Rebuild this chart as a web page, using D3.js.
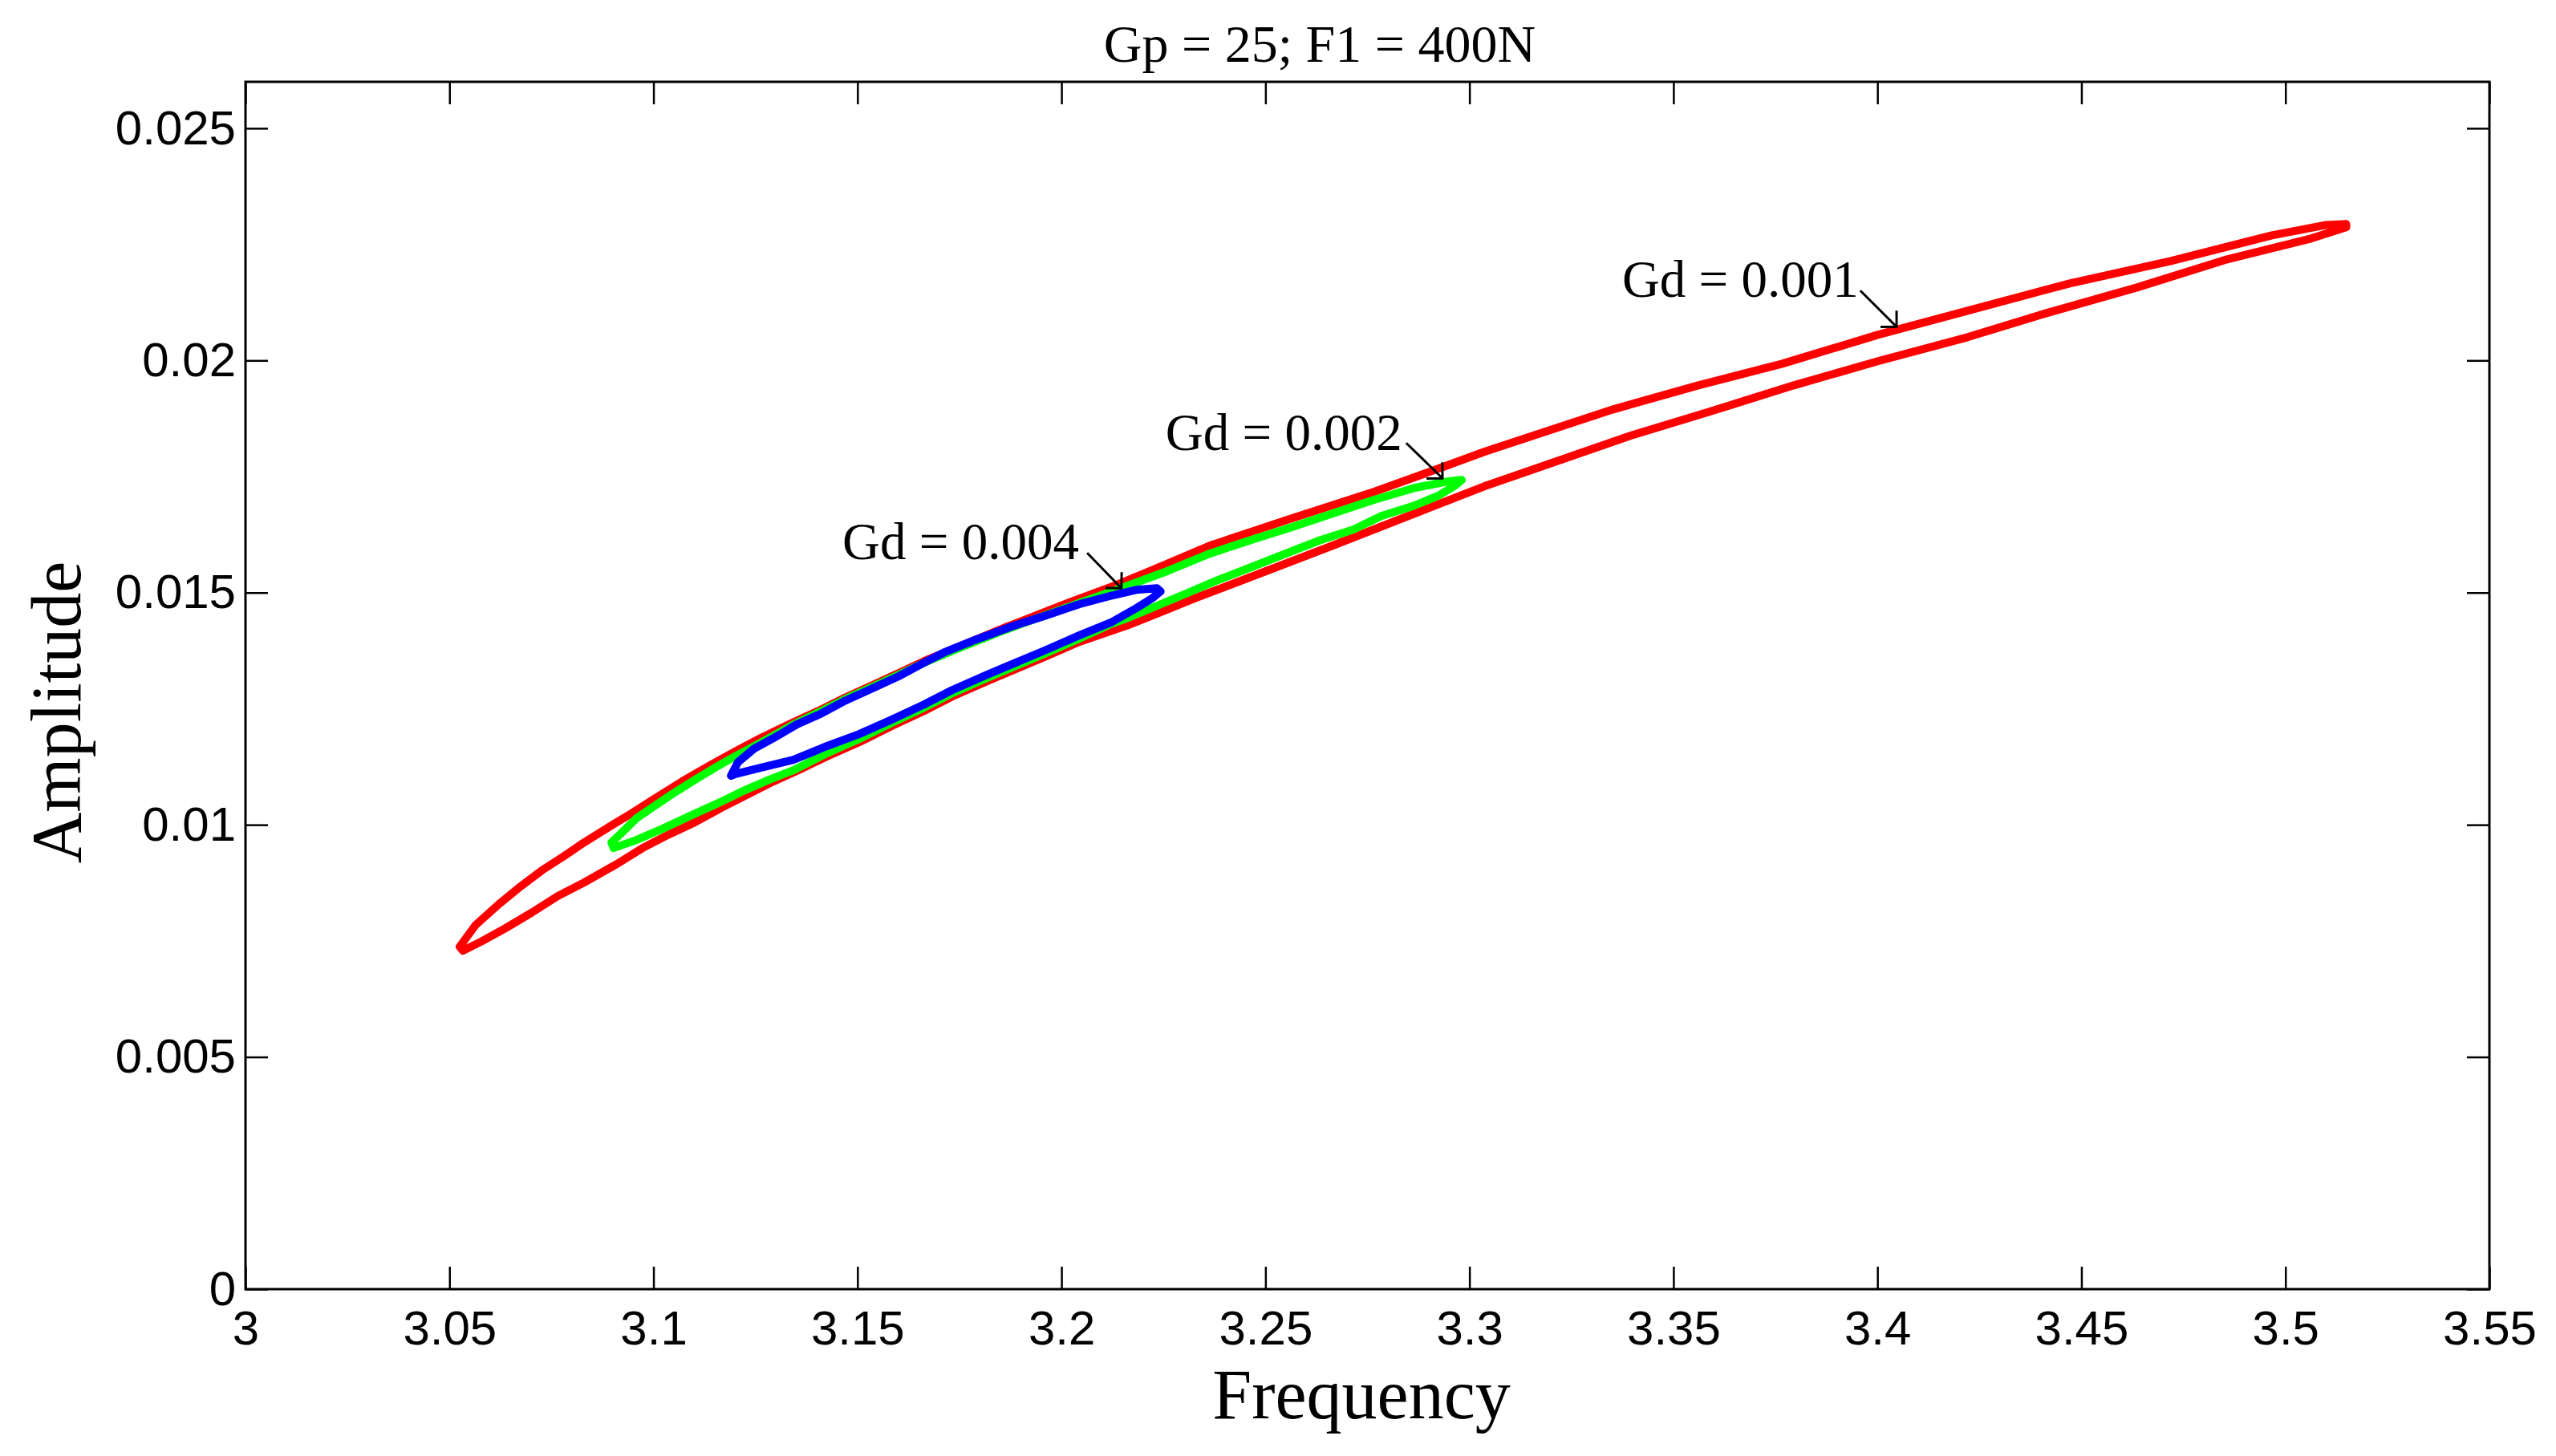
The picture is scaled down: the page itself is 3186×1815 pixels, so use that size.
<!DOCTYPE html>
<html>
<head>
<meta charset="utf-8">
<script src="https://cdn.jsdelivr.net/npm/d3@7"></script>
<style>
  body { margin: 0; background: #fff; }
  .tick text { font-family: "Liberation Sans", Arial, sans-serif; font-size: 60px; fill: #000; }
  .tick line { stroke: #000; stroke-width: 2.5; }
  .serif { font-family: "Liberation Serif", "Times New Roman", serif; fill: #000; }
</style>
</head>
<body>
<div id="chart"></div>
<script>
// axis ticks
const xTicks = [3, 3.05, 3.1, 3.15, 3.2, 3.25, 3.3, 3.35, 3.4, 3.45, 3.5, 3.55];
const xTickLabels = ["3", "3.05", "3.1", "3.15", "3.2", "3.25", "3.3", "3.35", "3.4", "3.45", "3.5", "3.55"];
const yTicks = [0, 0.005, 0.01, 0.015, 0.02, 0.025];
const yTickLabels = ["0", "0.005", "0.01", "0.015", "0.02", "0.025"];

// Gd = 0.001 loop (red): upper branch left->right, lower branch right->left
const gd001Upper = [[3.0525,0.007375],[3.0564,0.007841],[3.0621,0.008290],[3.0669,0.008636],[3.0726,0.009015],[3.0781,0.009326],[3.0830,0.009620],[3.0893,0.009965],[3.0942,0.010224],[3.1007,0.010587],[3.1070,0.010933],[3.1135,0.011261],[3.1199,0.011572],[3.1262,0.011865],[3.1335,0.012176],[3.1408,0.012470],[3.1471,0.012746],[3.1536,0.013005],[3.1600,0.013264],[3.1663,0.013523],[3.1738,0.013799],[3.1862,0.014249],[3.2013,0.014767],[3.2124,0.015129],[3.2224,0.015492],[3.2363,0.016010],[3.2564,0.016597],[3.2765,0.017167],[3.2945,0.017737],[3.3036,0.018031],[3.3173,0.018428],[3.3352,0.018946],[3.3561,0.019464],[3.3767,0.019930],[3.4001,0.020552],[3.4221,0.021071],[3.4471,0.021658],[3.4719,0.022141],[3.4967,0.022694],[3.5100,0.022918],[3.5149,0.022936]];
const gd001Lower = [[3.5149,0.022867],[3.5063,0.022625],[3.4857,0.022176],[3.4636,0.021571],[3.4414,0.021019],[3.4221,0.020501],[3.4001,0.019983],[3.3795,0.019464],[3.3588,0.018894],[3.3394,0.018376],[3.3201,0.017789],[3.3036,0.017288],[3.2865,0.016701],[3.2664,0.016010],[3.2464,0.015336],[3.2324,0.014870],[3.2243,0.014577],[3.2163,0.014300],[3.2043,0.013938],[3.1962,0.013627],[3.1892,0.013368],[3.1813,0.013074],[3.1732,0.012763],[3.1663,0.012452],[3.1583,0.012124],[3.1504,0.011779],[3.1424,0.011468],[3.1359,0.011192],[3.1294,0.010933],[3.1231,0.010656],[3.1166,0.010363],[3.1101,0.010052],[3.1038,0.009793],[3.0973,0.009499],[3.0910,0.009154],[3.0830,0.008756],[3.0765,0.008463],[3.0700,0.008100],[3.0637,0.007772],[3.0580,0.007496],[3.0533,0.007289]];

// Gd = 0.002 loop (green)
const gd002Upper = [[3.0897,0.009620],[3.0918,0.009793],[3.0958,0.010138],[3.1007,0.010432],[3.1054,0.010708],[3.1101,0.010967],[3.1150,0.011226],[3.1199,0.011468],[3.1247,0.011692],[3.1294,0.011917],[3.1343,0.012159],[3.1408,0.012435],[3.1471,0.012712],[3.1536,0.012971],[3.1600,0.013230],[3.1663,0.013489],[3.1738,0.013765],[3.1862,0.014197],[3.2013,0.014680],[3.2124,0.015026],[3.2263,0.015475],[3.2363,0.015838],[3.2464,0.016131],[3.2564,0.016408],[3.2664,0.016701],[3.2765,0.016995],[3.2865,0.017254],[3.2945,0.017392],[3.2981,0.017426]];
const gd002Lower = [[3.2965,0.017306],[3.2926,0.017098],[3.2865,0.016874],[3.2784,0.016649],[3.2715,0.016356],[3.2635,0.016131],[3.2564,0.015889],[3.2464,0.015544],[3.2383,0.015268],[3.2304,0.014974],[3.2243,0.014749],[3.2163,0.014456],[3.2124,0.014335],[3.2043,0.014007],[3.1962,0.013696],[3.1892,0.013437],[3.1813,0.013143],[3.1732,0.012832],[3.1663,0.012522],[3.1583,0.012193],[3.1504,0.011848],[3.1424,0.011537],[3.1343,0.011174],[3.1278,0.010950],[3.1215,0.010708],[3.1150,0.010432],[3.1085,0.010173],[3.1022,0.009914],[3.0958,0.009672],[3.0902,0.009499]];

// Gd = 0.004 loop (blue)
const gd004Upper = [[3.1190,0.011054],[3.1207,0.011347],[3.1247,0.011641],[3.1294,0.011865],[3.1351,0.012159],[3.1408,0.012383],[3.1471,0.012677],[3.1536,0.012936],[3.1600,0.013195],[3.1663,0.013489],[3.1713,0.013713],[3.1791,0.013990],[3.1882,0.014283],[3.1962,0.014508],[3.2043,0.014749],[3.2124,0.014939],[3.2183,0.015060],[3.2234,0.015095],[3.2243,0.015026]];
const gd004Lower = [[3.2224,0.014888],[3.2183,0.014663],[3.2124,0.014369],[3.2043,0.014076],[3.1962,0.013765],[3.1892,0.013506],[3.1813,0.013212],[3.1732,0.012901],[3.1663,0.012591],[3.1583,0.012262],[3.1504,0.011952],[3.1424,0.011692],[3.1343,0.011399],[3.1262,0.011226],[3.1199,0.011088]];

const seriesColors = ["#ff0000", "#00ff00", "#0000ff"];

// annotation text end point and arrow start/end, in data units
const noteLabels = ["Gd = 0.001", "Gd = 0.002", "Gd = 0.004"];
const noteText = [[3.3954, 0.021364], [3.2835, 0.018066], [3.2043, 0.015717]];
const noteFrom = [[3.3958, 0.021503], [3.2845, 0.018221], [3.2063, 0.015855]];
const noteTo = [[3.4047, 0.020725], [3.2934, 0.017461], [3.2147, 0.015095]];

const W = 3186, H = 1815;
const plot = { left: 306, right: 3103, top: 102, bottom: 1607 };

const svg = d3.select("#chart").append("svg")
  .attr("width", W)
  .attr("height", H)
  .style("background", "#fff");

const x = d3.scaleLinear().domain([3, 3.55]).range([plot.left, plot.right]);
const y = d3.scaleLinear().domain([0, 0.026]).range([plot.bottom, plot.top]);

const tickLen = 28;

// Bottom axis with labels
svg.append("g")
  .attr("transform", `translate(0,${plot.bottom})`)
  .call(d3.axisBottom(x).tickValues(xTicks).tickFormat((d, i) => xTickLabels[i])
    .tickSizeInner(-tickLen).tickSizeOuter(0).tickPadding(26))
  .call(g => g.select(".domain").remove());

// Left axis with labels
svg.append("g")
  .attr("transform", `translate(${plot.left},0)`)
  .call(d3.axisLeft(y).tickValues(yTicks).tickFormat((d, i) => yTickLabels[i])
    .tickSizeInner(-tickLen).tickSizeOuter(0).tickPadding(12))
  .call(g => g.select(".domain").remove());

// Top and right mirror ticks
svg.append("g")
  .attr("transform", `translate(0,${plot.top})`)
  .call(d3.axisTop(x).tickValues(xTicks).tickFormat("").tickSizeInner(-tickLen).tickSizeOuter(0))
  .call(g => g.select(".domain").remove());

svg.append("g")
  .attr("transform", `translate(${plot.right},0)`)
  .call(d3.axisRight(y).tickValues(yTicks).tickFormat("").tickSizeInner(-tickLen).tickSizeOuter(0))
  .call(g => g.select(".domain").remove());

// Axes box
svg.append("rect")
  .attr("x", plot.left)
  .attr("y", plot.top)
  .attr("width", plot.right - plot.left)
  .attr("height", plot.bottom - plot.top)
  .attr("fill", "none")
  .attr("stroke", "#000")
  .attr("stroke-width", 3);

// Loops, red under green under blue
const loops = [
  gd001Upper.concat(gd001Lower),
  gd002Upper.concat(gd002Lower),
  gd004Upper.concat(gd004Lower),
];

const line = d3.line()
  .x(d => x(d[0]))
  .y(d => y(d[1]))
  .curve(d3.curveLinearClosed);

svg.append("g")
  .selectAll("path")
  .data(loops)
  .enter()
  .append("path")
  .attr("d", line)
  .attr("fill", "none")
  .attr("stroke", (d, i) => seriesColors[i])
  .attr("stroke-width", 10)
  .attr("stroke-linejoin", "round");

// Annotations with open arrow heads
const notes = svg.append("g");
noteLabels.forEach((label, i) => {
  notes.append("text")
    .attr("class", "serif")
    .attr("x", x(noteText[i][0]))
    .attr("y", y(noteText[i][1]))
    .attr("text-anchor", "end")
    .attr("font-size", 65)
    .text(label);

  const x0 = x(noteFrom[i][0]), y0 = y(noteFrom[i][1]);
  const x1 = x(noteTo[i][0]), y1 = y(noteTo[i][1]);
  const ang = Math.atan2(y0 - y1, x0 - x1);
  const headLen = 20;
  const head = [ang - Math.PI / 4, ang + Math.PI / 4].map(a => [x1 + headLen * Math.cos(a), y1 + headLen * Math.sin(a)]);

  notes.append("path")
    .attr("d", `M${x0},${y0}L${x1},${y1}M${head[0][0]},${head[0][1]}L${x1},${y1}L${head[1][0]},${head[1][1]}`)
    .attr("fill", "none")
    .attr("stroke", "#000")
    .attr("stroke-width", 3);
});

// Title and axis labels
svg.append("text")
  .attr("class", "serif")
  .attr("x", 1645)
  .attr("y", 77)
  .attr("text-anchor", "middle")
  .attr("font-size", 66)
  .text("Gp = 25; F1 = 400N");

svg.append("text")
  .attr("class", "serif")
  .attr("x", 1697)
  .attr("y", 1768)
  .attr("text-anchor", "middle")
  .attr("font-size", 88)
  .text("Frequency");

svg.append("text")
  .attr("class", "serif")
  .attr("transform", "translate(100,888) rotate(-90)")
  .attr("text-anchor", "middle")
  .attr("font-size", 88)
  .text("Amplitude");
</script>
</body>
</html>
